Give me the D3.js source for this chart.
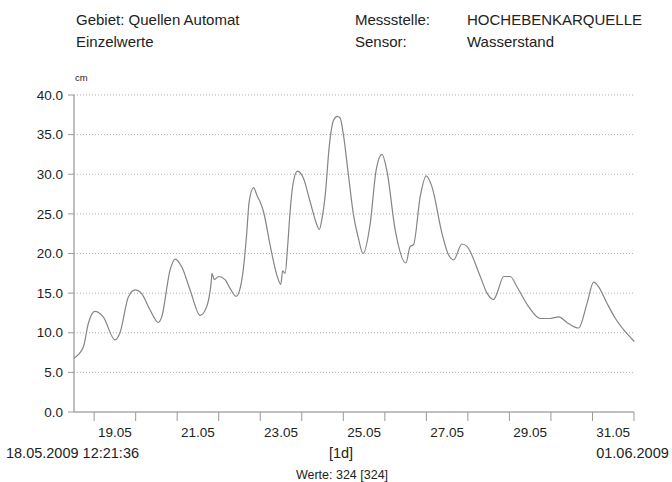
<!DOCTYPE html>
<html>
<head>
<meta charset="utf-8">
<script src="https://cdn.jsdelivr.net/npm/d3@7"></script>
<style>
  body { margin: 0; background: #fff; }
  svg text { font-family: "Liberation Sans", Arial, sans-serif; fill: #222; }
</style>
</head>
<body>
<svg id="chart" width="672" height="482"></svg>
<script>
// Header info
const headerLeft = ['Gebiet: Quellen Automat', 'Einzelwerte'];
const headerKeys = ['Messstelle:', 'Sensor:'];
const headerVals = ['HOCHEBENKARQUELLE', 'Wasserstand'];

// time range of the series
const startTime = new Date(2009, 4, 18, 12, 21, 36);
const endTime = new Date(2009, 5, 1, 0, 0, 0);

// hours after start, water level in cm
const hours = [0, 5.4, 8.3, 12.1, 16.9, 23.7, 26.6, 31.4, 35.3, 39.2, 43.9, 48.8, 50.7,
  55.5, 58.4, 62.3, 67.1, 72.9, 76.7, 79.2, 79.8, 81.0, 83.5, 87.3, 90.2, 93.7,
  96.0, 97.9, 99.8, 101.2, 103.8, 105.8, 107.6, 109.5, 113.3, 117.2, 119.5, 120.6,
  122.0, 123.5, 124.9, 126.6, 129.1, 132.6, 136.5, 140.4, 141.7, 143.4, 145.2,
  147.6, 150.0, 152.1, 153.8, 155.7, 158.6, 161.5, 164.4, 167.0, 171.2, 174.6,
  178.0, 180.8, 185.6, 191.8, 194.3, 196.2, 200.1, 203.6, 206.9, 212.6, 216.5,
  219.4, 224.2, 227.1, 234.8, 238.7, 242.5, 244.5, 248.3, 252.1, 256.0, 262.7,
  269.5, 275.3, 280.1, 284.9, 291.6, 296.5, 300.3, 303.2, 308.1, 312.9, 318.7, 323.8];
const levels = [6.8, 8.2, 11.2, 12.7, 12.0, 9.1, 10.0, 14.5, 15.4, 14.9, 12.9, 11.3, 12.0,
  17.9, 19.3, 18.3, 15.4, 12.2, 13.3, 16.2, 17.5, 16.7, 17.1, 16.7, 15.6, 14.6,
  15.6, 18.1, 22.5, 26.5, 28.3, 27.3, 26.5, 25.3, 21.1, 17.3, 16.1, 17.8,
  17.5, 21.0, 25.3, 28.8, 30.4, 29.5, 26.5, 23.6, 23.0, 24.5, 27.4,
  33.7, 36.8, 37.3, 37.1, 35.0, 29.9, 24.9, 21.9, 20.0, 23.8, 30.5,
  32.5, 30.5, 23.0, 18.8, 20.9, 21.1, 27.2, 29.8, 28.4, 22.6, 19.8,
  19.2, 21.2, 20.9, 17.1, 15.0, 14.2, 15.0, 17.1, 17.1, 15.8, 13.3,
  11.8, 11.8, 12.0, 11.3, 10.6, 13.7, 16.4, 15.8, 13.7, 11.8, 10.1, 8.9];

const yTicks = [0, 5, 10, 15, 20, 25, 30, 35, 40];
const xLabelDays = [19, 21, 23, 25, 27, 29, 31];

const svg = d3.select('#chart');
const margin = { left: 74, right: 38, top: 95, bottom: 70 };
const width = 672 - margin.left - margin.right;
const height = 482 - margin.top - margin.bottom;

const x = d3.scaleTime().domain([startTime, endTime]).range([margin.left, margin.left + width]);
const y = d3.scaleLinear().domain([0, 40]).range([margin.top + height, margin.top]);

const data = hours.map((h, i) => ({ t: new Date(startTime.getTime() + h * 3600 * 1000), v: levels[i] }));

// header
const header = svg.append('g').attr('class', 'header').style('font-size', '15px');
headerLeft.forEach((t, i) => header.append('text').attr('x', 76).attr('y', 25 + i * 22).text(t));
headerKeys.forEach((t, i) => header.append('text').attr('x', 355).attr('y', 25 + i * 22).text(t));
headerVals.forEach((t, i) => header.append('text').attr('x', 467).attr('y', 25 + i * 22).text(t));

svg.append('text').attr('x', 75).attr('y', 81).style('font-size', '9.5px').text('cm');

// grid lines
svg.append('g').attr('class', 'grid')
  .selectAll('line').data(yTicks.filter(d => d > 0)).join('line')
  .attr('x1', margin.left).attr('x2', margin.left + width)
  .attr('y1', d => y(d)).attr('y2', d => y(d))
  .attr('stroke', '#b0b0b0').attr('stroke-width', 1)
  .attr('stroke-dasharray', '1,2');

// y axis
const yAxis = svg.append('g').attr('class', 'y-axis');
yAxis.append('line')
  .attr('x1', margin.left).attr('x2', margin.left)
  .attr('y1', y(40)).attr('y2', y(0))
  .attr('stroke', '#aaa').attr('stroke-width', 1.5);
yAxis.selectAll('line.tick').data(yTicks).join('line').attr('class', 'tick')
  .attr('x1', margin.left - 6).attr('x2', margin.left)
  .attr('y1', d => y(d)).attr('y2', d => y(d))
  .attr('stroke', '#999');
yAxis.selectAll('text').data(yTicks).join('text')
  .attr('x', 63).attr('y', d => y(d)).attr('dy', '0.35em')
  .attr('text-anchor', 'end').style('font-size', '13.5px')
  .text(d => d3.format('.1f')(d));

// x axis
const xAxis = svg.append('g').attr('class', 'x-axis');
xAxis.append('line')
  .attr('x1', margin.left).attr('x2', margin.left + width)
  .attr('y1', y(0)).attr('y2', y(0))
  .attr('stroke', '#aaa').attr('stroke-width', 1.5);
const dayTicks = d3.timeDay.range(d3.timeDay.ceil(startTime), d3.timeDay.offset(endTime, 1));
xAxis.selectAll('line.tick').data(dayTicks).join('line').attr('class', 'tick')
  .attr('x1', d => x(d)).attr('x2', d => x(d))
  .attr('y1', y(0)).attr('y2', y(0) + 9)
  .attr('stroke', '#999');
xAxis.selectAll('text.day').data(xLabelDays).join('text').attr('class', 'day')
  .attr('x', d => x(new Date(2009, 4, d, 12)))
  .attr('y', 437).attr('text-anchor', 'middle').style('font-size', '13.5px')
  .text(d => d3.timeFormat('%d.%m')(new Date(2009, 4, d)));

const footer = svg.append('g').style('font-size', '14.5px').attr('text-anchor', 'middle');
footer.append('text').attr('x', 72.5).attr('y', 458).text(d3.timeFormat('%d.%m.%Y %H:%M:%S')(startTime));
footer.append('text').attr('x', 341).attr('y', 458).text('[1d]');
footer.append('text').attr('x', 632.5).attr('y', 458).text(d3.timeFormat('%d.%m.%Y')(endTime));
footer.append('text').attr('x', 342).attr('y', 479).style('font-size', '12.5px').text(`Werte: 324 [324]`);

// series line
const line = d3.line().x(d => x(d.t)).y(d => y(d.v)).curve(d3.curveMonotoneX);
svg.append('path').datum(data)
  .attr('fill', 'none').attr('stroke', '#858585').attr('stroke-width', 1.2)
  .attr('d', line);
</script>
</body>
</html>
